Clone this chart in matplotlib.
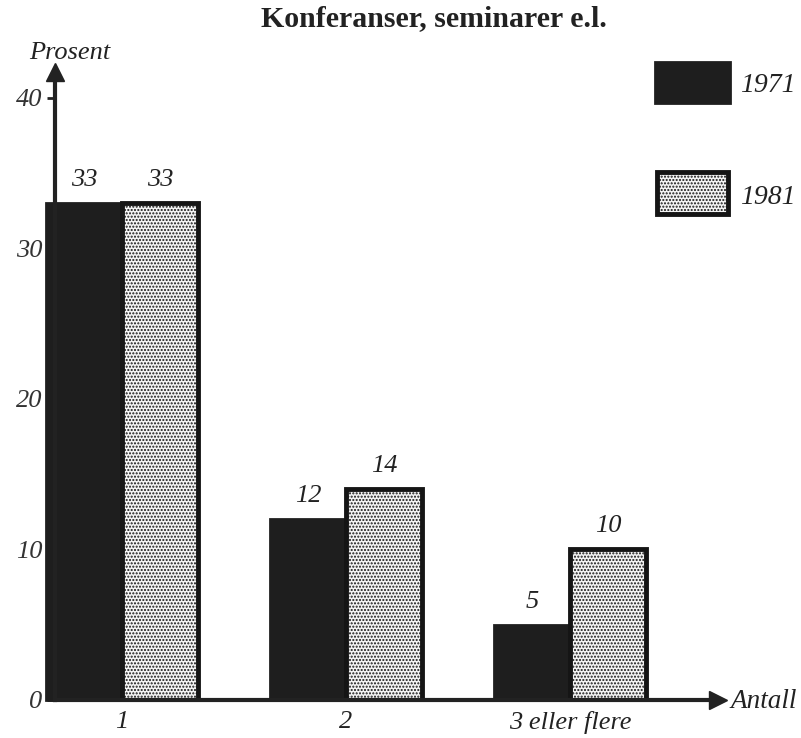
import matplotlib.pyplot as plt
from matplotlib.patches import Rectangle

categories = ["1", "2", "3 eller flere"]
years = ["1971", "1981"]
values_1971 = [33, 12, 5]
values_1981 = [33, 14, 10]
yticks = [0, 10, 20, 30, 40]

plt.rcParams['font.family'] = ['Liberation Serif', 'DejaVu Serif']
plt.rcParams['hatch.linewidth'] = 1.0
plt.rcParams['hatch.color'] = '#444444'

FS = 19
DARK = '#222222'

fig = plt.figure(figsize=(8.01, 7.38), dpi=100)
ax = fig.add_axes([55 / 801, 38 / 738, 663 / 801, 628 / 738])

W = 0.34
x = list(range(len(categories)))
ax.bar([i - W / 2 for i in x], values_1971, width=W, color='#1e1e1e',
       edgecolor='#1e1e1e', linewidth=2, clip_on=False, zorder=2)
ax.bar([i + W / 2 for i in x], values_1981, width=W, color='#f4f4f4',
       edgecolor='#151515', linewidth=3.5, hatch='.....', zorder=2)

for i in x:
    ax.text(i - W / 2, values_1971[i] + 0.8, str(values_1971[i]), ha='center',
            va='bottom', fontsize=FS, style='italic', color=DARK)
    ax.text(i + W / 2, values_1981[i] + 0.8, str(values_1981[i]), ha='center',
            va='bottom', fontsize=FS, style='italic', color=DARK)

ax.set_xlim(-0.299, 2.661)
ax.set_ylim(0, 41.7)
ax.set_yticks(yticks)
ax.set_yticklabels([str(t) for t in yticks], fontsize=FS, style='italic', color='#333')
ax.set_xticks(x)
ax.set_xticklabels(categories, fontsize=FS, style='italic', color=DARK)
ax.tick_params(axis='x', length=0, pad=8)
ax.tick_params(axis='y', length=6, width=2, direction='out', pad=3, color=DARK)

for s in ['top', 'right']:
    ax.spines[s].set_visible(False)
for s in ['left', 'bottom']:
    ax.spines[s].set_linewidth(3)
    ax.spines[s].set_color(DARK)
    ax.spines[s].set_zorder(3)

ax.plot(1, 0, '>', color=DARK, markersize=13, transform=ax.transAxes, clip_on=False)
ax.plot(0, 1, '^', color=DARK, markersize=13, transform=ax.transAxes, clip_on=False)

fig.text(70 / 801, 1 - 53 / 738, "Prosent", ha='center', va='center',
         fontsize=FS, style='italic', color=DARK)
fig.text(764 / 801, 1 - 701 / 738, "Antall", ha='center', va='center',
         fontsize=19.5, style='italic', color=DARK)
fig.suptitle("Konferanser, seminarer e.l.", x=434 / 801, y=1 - 19 / 738,
             va='center', fontsize=21.5, fontweight='bold', color=DARK)

# legend boxes
fig.add_artist(Rectangle((655 / 801, 1 - 103 / 738), 75 / 801, 41 / 738,
                         transform=fig.transFigure, facecolor='#1e1e1e',
                         edgecolor='#1e1e1e', linewidth=2))
fig.add_artist(Rectangle((657 / 801, 1 - 214 / 738), 71 / 801, 42 / 738,
                         transform=fig.transFigure, facecolor='#f4f4f4',
                         edgecolor='#151515', linewidth=3.5, hatch='.....'))
fig.text(768 / 801, 1 - 85 / 738, years[0], ha='center', va='center',
         fontsize=20, style='italic', color=DARK)
fig.text(768 / 801, 1 - 197 / 738, years[1], ha='center', va='center',
         fontsize=20, style='italic', color=DARK)

fig.savefig("out.png", dpi=100)
